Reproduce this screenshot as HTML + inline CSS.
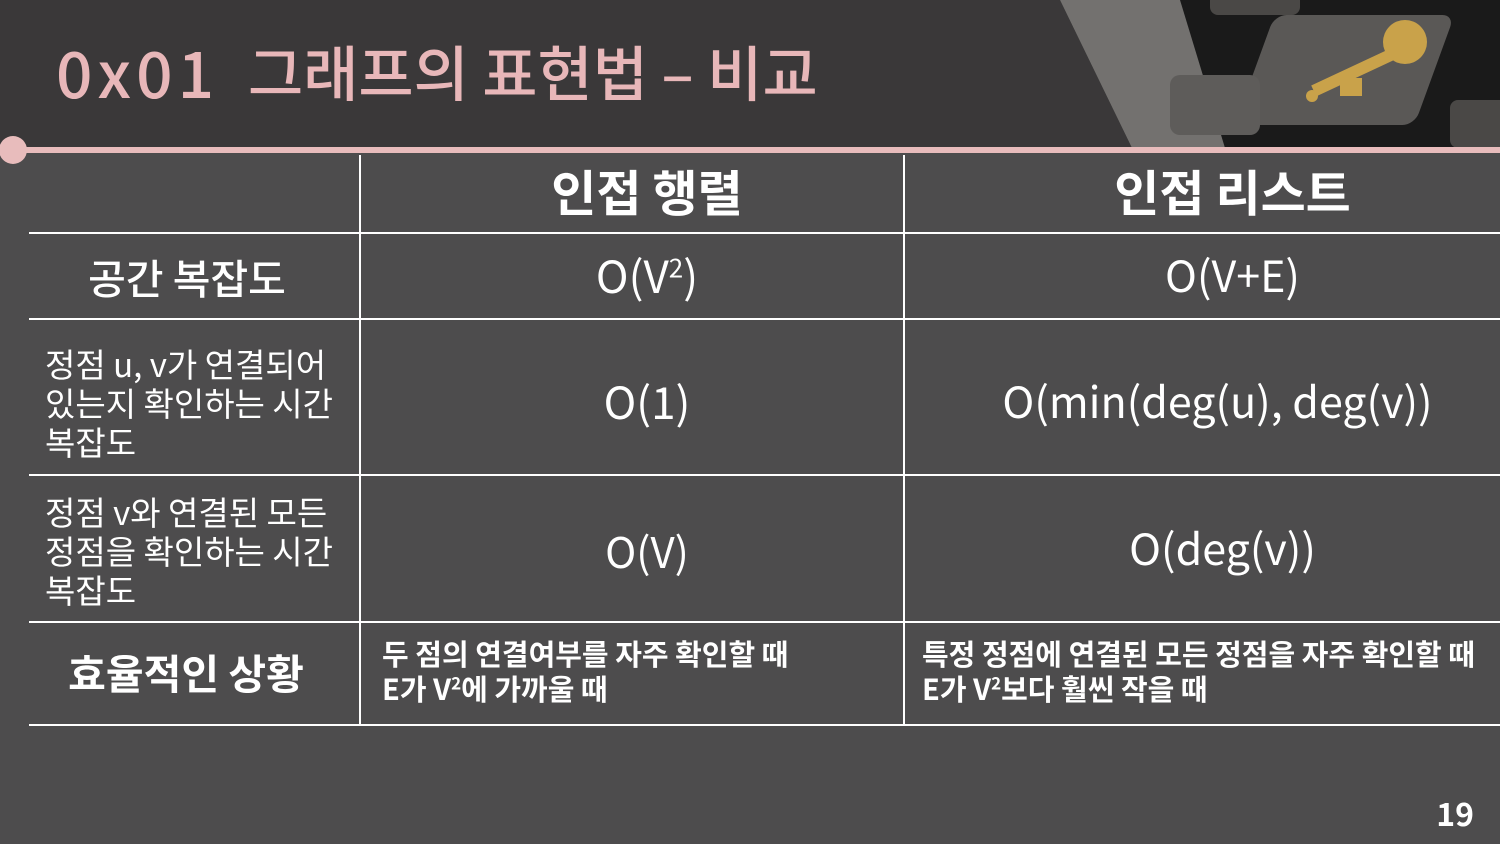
<!DOCTYPE html>
<html><head><meta charset="utf-8"><style>
html,body{margin:0;padding:0}
body{width:1500px;height:844px;background:#4d4c4d;position:relative;overflow:hidden;font-family:"Noto Sans CJK KR","Liberation Sans",sans-serif;color:#fff}
#top{position:absolute;left:0;top:0;width:1500px;height:148px;background:#3a3839}
.tt{position:absolute;top:26px;font-size:60px;color:#e8b7b9;font-weight:500;white-space:nowrap;line-height:90px}
#line{position:absolute;left:0;top:147px;width:1500px;height:6px;background:#e8bcbc}
#dot{position:absolute;left:-1px;top:136px;width:28px;height:28px;border-radius:50%;background:#e8bcbc}
.h{position:absolute;height:2px;background:#fff;left:29px;width:1471px}
.v{position:absolute;width:2px;background:#fff;top:155px;height:571px}
.c{position:absolute;display:flex;align-items:center;justify-content:center;text-align:center;white-space:nowrap}
.l{justify-content:flex-start;text-align:left}
sup{line-height:0;vertical-align:super}
#pg{position:absolute;right:26px;top:790px;font-size:32px;font-weight:bold}
</style></head><body>
<div id="top"></div>
<svg style="position:absolute;left:1040px;top:0" width="460" height="148">
<polygon points="20,0 460,0 460,148 92,148" fill="#1a1a1a"/>
<polygon points="20,0 140,0 185,148 92,148" fill="#8a8784" opacity="0.8"/>
<rect x="240" y="15" width="180" height="110" rx="12" fill="#5a5856" transform="skewX(-20)"/>
<rect x="170" y="-10" width="90" height="25" rx="8" fill="#4a4846"/>
<rect x="130" y="75" width="90" height="60" rx="10" fill="#5e5c5a"/>
<rect x="410" y="100" width="60" height="48" rx="8" fill="#4a4846"/>
<g fill="#c9a24a"><circle cx="365" cy="42" r="22"/><rect x="270" y="68" width="85" height="12" transform="rotate(-25 310 74)"/><rect x="300" y="78" width="22" height="18"/><circle cx="272" cy="96" r="6"/></g>
</svg>
<div class="tt" style="left:56px;letter-spacing:5px;font-size:64px">0x01</div>
<div class="tt" style="left:248px">그래프의 표현법 – 비교</div>
<div id="line"></div>
<div id="dot"></div>

<div class="v" style="left:359px"></div>
<div class="v" style="left:903px"></div>
<div class="h" style="top:232px"></div>
<div class="h" style="top:318px"></div>
<div class="h" style="top:474px"></div>
<div class="h" style="top:621px"></div>
<div class="h" style="top:724px"></div>

<div class="c" style="left:391px;width:512px;top:151px;height:79px;font-size:49px;font-weight:bold"><div>인접 행렬</div></div>
<div class="c" style="left:965px;width:535px;top:151px;height:79px;font-size:49px;font-weight:bold"><div>인접 리스트</div></div>

<div class="c" style="left:29px;width:316px;top:234px;height:84px;font-size:41px;font-weight:500"><div>공간 복잡도</div></div>
<div class="c" style="left:391px;width:512px;top:232px;height:84px;font-size:44px"><div>O(V<sup style="font-size:26px">2</sup>)</div></div>
<div class="c" style="left:965px;width:535px;top:232px;height:84px;font-size:43px"><div>O(V+E)</div></div>

<div class="c l" style="left:45px;width:314px;top:320px;height:164px;font-size:33px;line-height:39px"><div>정점 u, v가 연결되어<br>있는지 확인하는 시간<br>복잡도</div></div>
<div class="c" style="left:391px;width:512px;top:318px;height:164px;font-size:44px"><div>O(1)</div></div>
<div class="c" style="left:935px;width:565px;top:318px;height:164px;font-size:43px"><div>O(min(deg(u), deg(v))</div></div>

<div class="c l" style="left:45px;width:314px;top:476px;height:148px;font-size:33px;line-height:39px"><div>정점 v와 연결된 모든<br>정점을 확인하는 시간<br>복잡도</div></div>
<div class="c" style="left:391px;width:512px;top:474px;height:152px;font-size:42px"><div>O(V)</div></div>
<div class="c" style="left:945px;width:555px;top:472px;height:150px;font-size:43px"><div>O(deg(v))</div></div>

<div class="c" style="left:29px;width:314px;top:620px;height:101px;font-size:41px;font-weight:bold"><div>효율적인 상황</div></div>
<div class="c l" style="left:382px;width:520px;top:620px;height:101px;font-size:29px;line-height:35px;font-weight:bold"><div>두 점의 연결여부를 자주 확인할 때<br>E가 V<sup style="font-size:17px">2</sup>에 가까울 때</div></div>
<div class="c l" style="left:922px;width:578px;top:620px;height:101px;font-size:29px;line-height:35px;font-weight:bold"><div>특정 정점에 연결된 모든 정점을 자주 확인할 때<br>E가 V<sup style="font-size:17px">2</sup>보다 훨씬 작을 때</div></div>

<div id="pg">19</div>
</body></html>
